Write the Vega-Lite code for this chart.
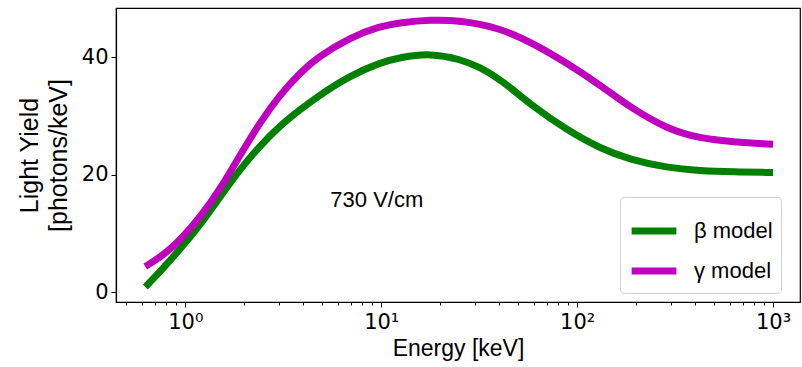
{
  "$schema": "https://vega.github.io/schema/vega-lite/v6.json",
  "width": 684,
  "height": 294,
  "autosize": {"type": "none"},
  "padding": {"left": 116, "top": 8, "right": 2, "bottom": 65},
  "background": "white",
  "config": {
    "view": {"stroke": "black", "strokeWidth": 1.2},
    "axis": {"domainColor": "black", "tickColor": "black", "labelColor": "black", "titleColor": "black", "grid": false, "domainWidth": 1.2, "tickWidth": 1}
  },
  "datasets": {
    "curves": [
      {"E": 0.625, "LY": 0.9, "model": "β model"},
      {"E": 0.772, "LY": 4.1, "model": "β model"},
      {"E": 0.943, "LY": 7.4, "model": "β model"},
      {"E": 1.193, "LY": 11.5, "model": "β model"},
      {"E": 1.509, "LY": 16.3, "model": "β model"},
      {"E": 1.908, "LY": 21.0, "model": "β model"},
      {"E": 2.414, "LY": 25.0, "model": "β model"},
      {"E": 3.053, "LY": 28.4, "model": "β model"},
      {"E": 3.862, "LY": 31.1, "model": "β model"},
      {"E": 4.715, "LY": 33.3, "model": "β model"},
      {"E": 6.945, "LY": 36.9, "model": "β model"},
      {"E": 9.89, "LY": 39.1, "model": "β model"},
      {"E": 12.5, "LY": 40.0, "model": "β model"},
      {"E": 17.8, "LY": 40.7, "model": "β model"},
      {"E": 25.3, "LY": 39.7, "model": "β model"},
      {"E": 32.0, "LY": 38.3, "model": "β model"},
      {"E": 40.5, "LY": 36.3, "model": "β model"},
      {"E": 59.7, "LY": 31.6, "model": "β model"},
      {"E": 89.0, "LY": 27.6, "model": "β model"},
      {"E": 131, "LY": 24.5, "model": "β model"},
      {"E": 186, "LY": 22.6, "model": "β model"},
      {"E": 288, "LY": 21.2, "model": "β model"},
      {"E": 424, "LY": 20.7, "model": "β model"},
      {"E": 625, "LY": 20.5, "model": "β model"},
      {"E": 1000, "LY": 20.4, "model": "β model"},
      {"E": 0.625, "LY": 4.4, "model": "γ model"},
      {"E": 0.772, "LY": 6.3, "model": "γ model"},
      {"E": 0.943, "LY": 8.9, "model": "γ model"},
      {"E": 1.193, "LY": 12.8, "model": "γ model"},
      {"E": 1.509, "LY": 17.6, "model": "γ model"},
      {"E": 1.908, "LY": 23.4, "model": "γ model"},
      {"E": 2.414, "LY": 29.0, "model": "γ model"},
      {"E": 3.053, "LY": 33.7, "model": "γ model"},
      {"E": 3.862, "LY": 37.4, "model": "γ model"},
      {"E": 4.715, "LY": 40.0, "model": "γ model"},
      {"E": 6.945, "LY": 43.4, "model": "γ model"},
      {"E": 9.89, "LY": 45.3, "model": "γ model"},
      {"E": 12.5, "LY": 45.9, "model": "γ model"},
      {"E": 17.8, "LY": 46.4, "model": "γ model"},
      {"E": 25.3, "LY": 46.3, "model": "γ model"},
      {"E": 40.5, "LY": 45.0, "model": "γ model"},
      {"E": 59.7, "LY": 42.4, "model": "γ model"},
      {"E": 89.0, "LY": 39.0, "model": "γ model"},
      {"E": 131, "LY": 35.3, "model": "γ model"},
      {"E": 186, "LY": 31.5, "model": "γ model"},
      {"E": 288, "LY": 27.8, "model": "γ model"},
      {"E": 424, "LY": 26.2, "model": "γ model"},
      {"E": 625, "LY": 25.6, "model": "γ model"},
      {"E": 1000, "LY": 25.2, "model": "γ model"}
    ],
    "note": [{"E": 5.5, "LY": 15.7, "label": "730 V/cm"}]
  },
  "layer": [
    {
      "data": {"name": "curves"},
      "mark": {"type": "line", "strokeWidth": 7, "interpolate": "basis", "clip": true},
      "encoding": {
        "x": {
          "field": "E", "type": "quantitative",
          "scale": {"type": "log", "domain": [0.443, 1373], "nice": false},
          "axis": {
            "orient": "bottom", "values": [1, 10, 100, 1000],
            "labelExpr": "datum.value == 1 ? '10⁰' : datum.value == 10 ? '10¹' : datum.value == 100 ? '10²' : '10³'",
            "tickSize": 5, "labelPadding": 4, "labelFontSize": 21, "labelFont": "DejaVu Sans",
            "title": "Energy [keV]", "titleFontSize": 23, "titleFont": "Liberation Sans", "titleFontWeight": "normal", "titlePadding": 5
          }
        },
        "y": {
          "field": "LY", "type": "quantitative",
          "scale": {"domain": [-1.65, 48.4], "nice": false, "zero": false},
          "axis": {
            "values": [0, 20, 40], "tickSize": 5, "labelPadding": 3, "labelFontSize": 21, "labelFont": "DejaVu Sans",
            "title": ["Light Yield", "[photons/keV]"], "titleFontSize": 25, "titleFont": "Liberation Sans", "titleFontWeight": "normal", "titleLineHeight": 29, "titlePadding": 10
          }
        },
        "color": {
          "field": "model", "type": "nominal",
          "scale": {"domain": ["β model", "γ model"], "range": ["#008000", "#bf00bf"]},
          "legend": {
            "orient": "none", "legendX": 504, "legendY": 189, "title": null,
            "symbolType": "stroke", "symbolStrokeWidth": 7, "symbolSize": 2000,
            "labelFontSize": 22, "labelFont": "Liberation Sans", "labelColor": "black", "labelOffset": 14,
            "strokeColor": "#d0d0d0", "fillColor": "white", "cornerRadius": 4, "padding": 8, "rowPadding": 0
          }
        }
      }
    },
    {
      "data": {"name": "note"},
      "mark": {"type": "text", "align": "left", "baseline": "middle", "fontSize": 22, "font": "Liberation Sans", "color": "black"},
      "encoding": {
        "x": {
          "field": "E", "type": "quantitative",
          "axis": {
            "orient": "bottom",
            "values": [0.5, 0.6, 0.7, 0.8, 0.9, 2, 3, 4, 5, 6, 7, 8, 9, 20, 30, 40, 50, 60, 70, 80, 90, 200, 300, 400, 500, 600, 700, 800, 900],
            "labels": false, "domain": false, "tickSize": 3, "title": null
          }
        },
        "y": {"field": "LY", "type": "quantitative"},
        "text": {"field": "label"}
      }
    }
  ],
  "resolve": {"axis": {"x": "independent"}}
}
